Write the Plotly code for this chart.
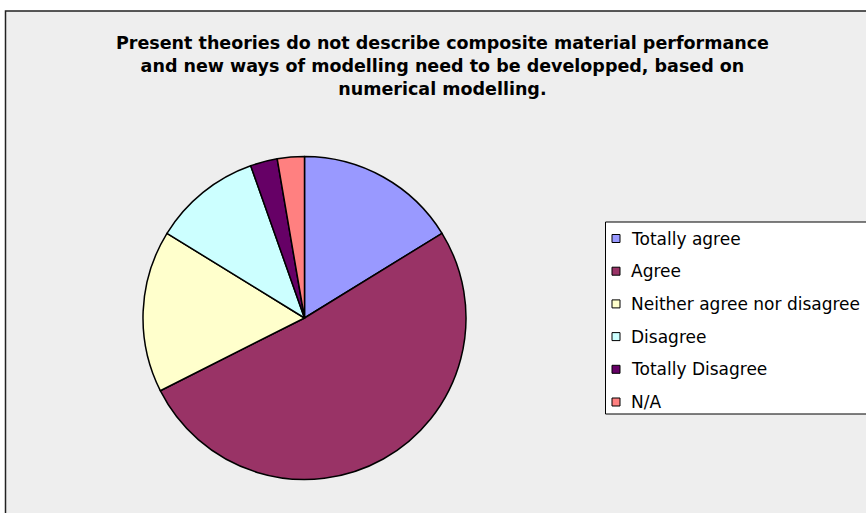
import plotly.graph_objects as go

W, H = 866, 513

labels = ["Totally agree", "Agree", "Neither agree nor disagree", "Disagree", "Totally Disagree", "N/A"]
values = [6, 19, 6, 4, 1, 1]
colors = ["#9999FF", "#993366", "#FFFFCC", "#CCFFFF", "#660066", "#FF8080"]
title_text = ("Present theories do not describe composite material performance<br>"
              "and new ways of modelling need to be developped, based on<br>"
              "numerical modelling.")

FONT = "DejaVu Sans, Verdana, sans-serif"

def px(x):
    return x / W

def py(y):
    return 1 - y / H

fig = go.Figure()
fig.add_trace(go.Pie(
    labels=labels, values=values, sort=False, direction="clockwise", rotation=0,
    marker=dict(colors=colors, line=dict(color="#000000", width=1.5)),
    textinfo="none", hoverinfo="label+value+percent", showlegend=False,
    domain=dict(x=[px(143), px(466)], y=[py(479.5), py(156.5)]),
))

shapes = [
    # chart area
    dict(type="rect", xref="paper", yref="paper", x0=px(5.5), x1=px(880), y0=py(530), y1=py(11),
         fillcolor="#EEEEEE", line=dict(color="#222222", width=1.5), layer="below"),
    # legend box
    dict(type="rect", xref="paper", yref="paper", x0=px(605.5), x1=px(880), y0=py(414), y1=py(222),
         fillcolor="#FFFFFF", line=dict(color="#000000", width=1), layer="below"),
]
annotations = [
    dict(text="<b>" + title_text + "</b>", xref="paper", yref="paper", x=px(442), y=py(66),
         xanchor="center", yanchor="middle", showarrow=False, align="center",
         font=dict(family=FONT, size=17.5, color="#000000")),
]

y_first, step = 238.5, 32.7
for i, (lab, col) in enumerate(zip(labels, colors)):
    yc = y_first + i * step
    shapes.append(dict(type="rect", xref="paper", yref="paper",
                       x0=px(612), x1=px(620), y0=py(yc + 4), y1=py(yc - 4),
                       fillcolor=col, line=dict(color="#000000", width=1)))
    annotations.append(dict(text=lab, xref="paper", yref="paper", x=px(629), y=py(yc),
                            xanchor="left", yanchor="middle", showarrow=False,
                            font=dict(family=FONT, size=17, color="#000000")))

fig.update_layout(
    width=W, height=H, margin=dict(l=0, r=0, t=0, b=0),
    paper_bgcolor="#FFFFFF", plot_bgcolor="#FFFFFF",
    shapes=shapes, annotations=annotations, showlegend=False,
)

fig.write_html("out.html", config={"displayModeBar": False},
               post_script="document.body.style.margin='0';document.body.style.overflow='hidden';")
